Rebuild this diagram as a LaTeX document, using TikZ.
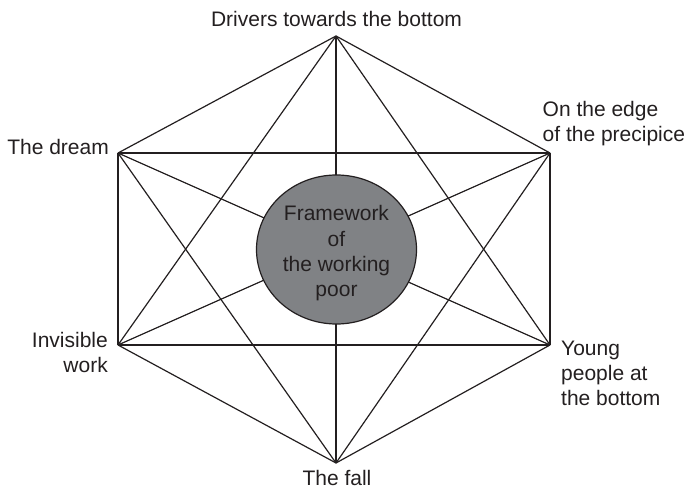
\documentclass[tikz,border=0pt]{standalone}
\usepackage{fontspec}
\setmainfont{Liberation Sans}
\usetikzlibrary{shapes.geometric}
\definecolor{ink}{HTML}{231F20}
\definecolor{discgray}{HTML}{808285}
\begin{document}
\begin{tikzpicture}[x=1pt,y=-1pt,
  edge/.style={draw=ink,line width=1.2pt},
  lbl/.style={inner sep=0pt,text=ink,font=\fontsize{21}{25.3}\selectfont},
  disc/.style={ellipse,draw=ink,line width=1.2pt,fill=discgray,minimum width=160pt,minimum height=149pt,inner sep=0pt}]
\useasboundingbox (0,0) rectangle (688,489);
\coordinate (T) at (336,36);
\coordinate (UR) at (550,153);
\coordinate (LR) at (550,345);
\coordinate (B) at (336,463);
\coordinate (LL) at (118,345);
\coordinate (UL) at (118,153);
\foreach \a/\b in {T/UR,T/LR,T/B,T/LL,T/UL,UR/LR,UR/B,UR/LL,UR/UL,LR/B,LR/LL,LR/UL,B/LL,B/UL,LL/UL}
  \draw[edge] (\a) -- (\b);
\node[disc] (c) at (336.5,249.5) {};
\node[lbl,align=center,anchor=base] (ct) at (336.5,296.6) {Framework\\of\\the working\\poor};
\node[lbl,anchor=base] (lt) at (336.5,27) {Drivers towards the bottom};
\node[lbl,anchor=base west,align=left] (lur) at (542.5,141.7) {On the edge\\of the precipice};
\node[lbl,anchor=base west,align=left] (llr) at (561,405.6) {Young\\people at\\the bottom};
\node[lbl,anchor=base] (lb) at (337,485) {The fall};
\node[lbl,anchor=base east,align=right] (lll) at (108,372.3) {Invisible\\work};
\node[lbl,anchor=base east] (lul) at (109,155) {The dream};
\end{tikzpicture}
\end{document}
